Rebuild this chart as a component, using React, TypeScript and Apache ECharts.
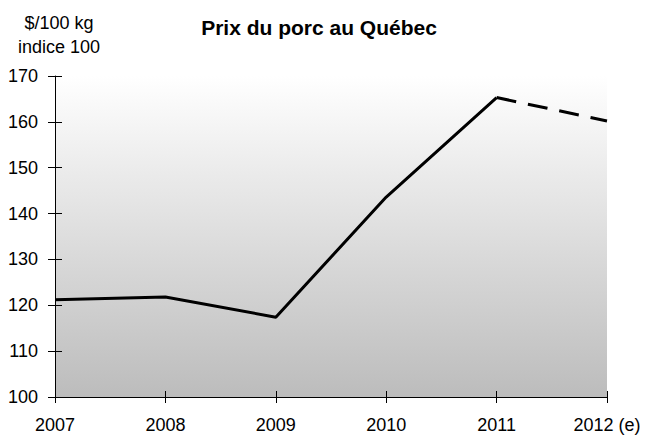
import React, { useEffect, useRef } from "react";
import * as echarts from "echarts";

const years = ["2007", "2008", "2009", "2010", "2011", "2012 (e)"];
const prices = [121.2, 121.8, 117.4, 143.6, 165.3, 160.2];
const forecastFrom = 4;
const yTicks = [100, 110, 120, 130, 140, 150, 160, 170];

export default function App() {
  const ref = useRef<HTMLDivElement>(null);
  useEffect(() => {
    if (!ref.current) return;
    const chart = echarts.init(ref.current, undefined, { renderer: "svg" });
    const solid = prices.map((v, i) => (i <= forecastFrom ? v : null));
    const dashed = prices.map((v, i) => (i >= forecastFrom ? v : null));
    const font = "'Liberation Sans', Arial, sans-serif";
    const yMin = yTicks[0];
    const yMax = yTicks[yTicks.length - 1];
    const baseX = {
      type: "category" as const,
      data: years,
      boundaryGap: false,
    };
    const baseY = {
      type: "value" as const,
      min: yMin,
      max: yMax,
      interval: 10,
      splitLine: { show: false },
    };
    chart.setOption({
      animation: false,
      backgroundColor: "#ffffff",
      textStyle: { fontFamily: font },
      title: [
        {
          text: "Prix du porc au Québec",
          left: 314,
          top: 12,
          textAlign: "center",
          textStyle: { fontFamily: font, fontSize: 21, fontWeight: "bold", color: "#000" },
        },
        {
          text: "$/100 kg\nindice 100",
          left: 54,
          top: 6,
          textAlign: "center",
          textStyle: { fontFamily: font, fontSize: 18, fontWeight: "normal", color: "#000", lineHeight: 24, align: "center" },
        },
      ],
      grid: {
        left: 55,
        right: 38,
        top: 76,
        bottom: 38,
        show: true,
        borderWidth: 0,
        backgroundColor: new echarts.graphic.LinearGradient(0, 0, 0, 1, [
          { offset: 0, color: "#ffffff" },
          { offset: 1, color: "#bcbcbc" },
        ]),
      },
      xAxis: [
        {
          ...baseX,
          axisLine: { show: true, lineStyle: { color: "#000", width: 1 } },
          axisTick: { show: true, length: 6, lineStyle: { color: "#000" } },
          axisLabel: { color: "#000", fontSize: 18, fontFamily: font, margin: 19 },
        },
        {
          ...baseX,
          position: "bottom",
          axisLine: { show: false },
          axisTick: { show: true, inside: true, length: 6, lineStyle: { color: "#000" } },
          axisLabel: { show: false },
        },
      ],
      yAxis: [
        {
          ...baseY,
          axisLine: { show: true, lineStyle: { color: "#000", width: 1 } },
          axisTick: { show: true, length: 7, lineStyle: { color: "#000" } },
          axisLabel: { color: "#000", fontSize: 18, fontFamily: font, margin: 17 },
        },
        {
          ...baseY,
          position: "left",
          axisLine: { show: false },
          axisTick: { show: true, inside: true, length: 7, lineStyle: { color: "#000" } },
          axisLabel: { show: false },
        },
      ],
      series: [
        {
          type: "line",
          data: solid,
          symbol: "none",
          lineStyle: { color: "#000", width: 3 },
          connectNulls: false,
        },
        {
          type: "line",
          data: dashed,
          symbol: "none",
          lineStyle: { color: "#000", width: 3, type: [20, 12] },
          connectNulls: false,
        },
      ],
    });
    return () => chart.dispose();
  }, []);
  return <div ref={ref} style={{ width: 645, height: 435, position: "absolute", left: 0, top: 0 }} />;
}
